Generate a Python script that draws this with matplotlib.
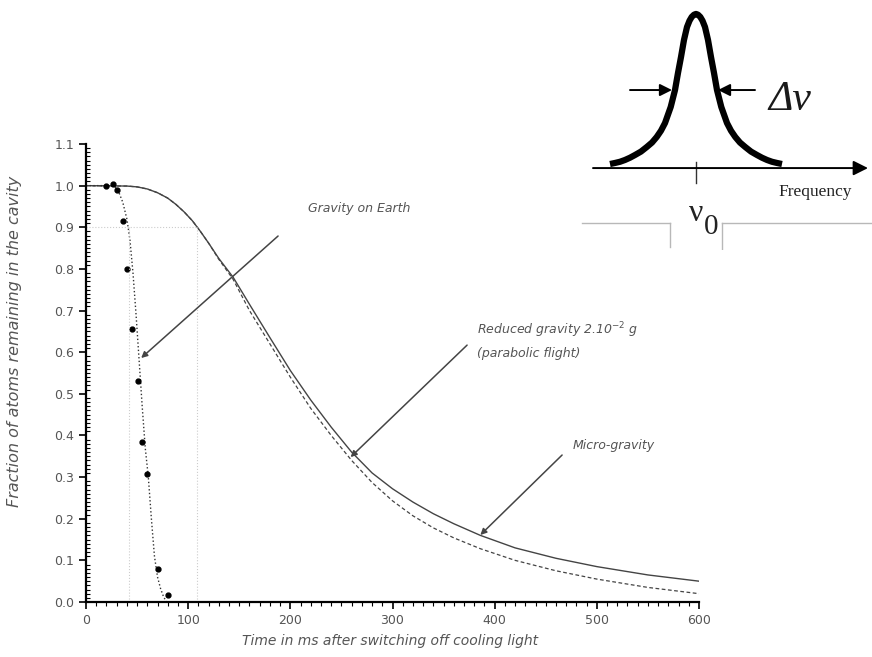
import numpy as np
import matplotlib
matplotlib.use("Agg")
import matplotlib.pyplot as plt
from matplotlib.ticker import MultipleLocator, FormatStrFormatter

# measured points, gravity on Earth
earth_t = [20, 26, 30, 36, 40, 45, 51, 55, 60, 70, 80]
earth_frac = [1.0, 1.003, 0.99, 0.915, 0.80, 0.655, 0.53, 0.385, 0.308, 0.08, 0.018]

# fit curve, gravity on Earth (dotted)
earth_fit_t = [0, 20, 28, 32, 36, 40, 43, 46, 49, 52, 55, 58, 61, 64, 67, 70, 73, 76, 79]
earth_fit_frac = [1.0, 1.0, 0.998, 0.985, 0.96, 0.92, 0.87, 0.79, 0.69, 0.58, 0.47,
                  0.37, 0.30, 0.20, 0.11, 0.06, 0.032, 0.012, 0.0]

# micro-gravity (solid) and reduced gravity (dashed)
curve_t = [0, 40, 50, 60, 70, 80, 88, 96, 104, 112, 120, 130, 144, 160, 180, 200, 220,
           240, 260, 280, 300, 320, 340, 360, 386, 420, 460, 500, 550, 600]
micro_frac = [1.0, 0.999, 0.997, 0.992, 0.983, 0.970, 0.955, 0.937, 0.916, 0.890, 0.862,
              0.825, 0.78, 0.715, 0.635, 0.556, 0.485, 0.42, 0.36, 0.31, 0.272, 0.24,
              0.212, 0.188, 0.16, 0.13, 0.105, 0.085, 0.065, 0.05]
reduced_frac = [1.0, 0.999, 0.997, 0.992, 0.983, 0.970, 0.955, 0.937, 0.916, 0.890, 0.862,
                0.823, 0.775, 0.70, 0.62, 0.54, 0.465, 0.40, 0.34, 0.287, 0.243, 0.207,
                0.178, 0.154, 0.128, 0.10, 0.075, 0.055, 0.035, 0.02]

# guide lines at 90 %
level_90 = 0.9
t90_earth = 42
t90_micro = 108.6

# inset line profile: half-width offsets (px from centre) and relative height
half_off = [0, 2, 4.3, 6.5, 9, 12, 15, 18, 21, 25.3, 31, 35, 39.3, 44, 49.3, 55, 61,
            66, 71, 76, 81, 86]
half_amp = [1.0, 0.995, 0.98, 0.955, 0.913, 0.827, 0.713, 0.607, 0.493, 0.38, 0.273,
            0.222, 0.18, 0.143, 0.113, 0.083, 0.06, 0.042, 0.027, 0.015, 0.007, 0.0]

txt = "#555555"
fig = plt.figure(figsize=(8.72, 6.57), dpi=100)
ax = fig.add_axes([86 / 872, 55 / 657, 613 / 872, 458 / 657])

ax.plot(curve_t, micro_frac, color="#444444", lw=1.0)
ax.plot(curve_t, reduced_frac, color="#444444", lw=0.9, dashes=(3, 2))
ax.plot(earth_fit_t, earth_fit_frac, color="#333333", lw=1.0, ls=":")
ax.plot(earth_t, earth_frac, "o", color="black", ms=3.5)

gcol = "#cccccc"
ax.plot([0, t90_micro], [level_90, level_90], color=gcol, lw=0.8, ls=":")
ax.plot([t90_earth, t90_earth], [0, level_90], color=gcol, lw=0.8, ls=":")
ax.plot([t90_micro, t90_micro], [0, level_90], color=gcol, lw=0.8, ls=":")

ax.set_xlim(0, 600)
ax.set_ylim(0, 1.1)
ax.xaxis.set_major_locator(MultipleLocator(100))
ax.xaxis.set_minor_locator(MultipleLocator(10))
ax.yaxis.set_major_locator(MultipleLocator(0.1))
ax.yaxis.set_minor_locator(MultipleLocator(0.01))
ax.yaxis.set_major_formatter(FormatStrFormatter("%.1f"))
for s in ["top", "right"]:
    ax.spines[s].set_visible(False)
for s in ["left", "bottom"]:
    ax.spines[s].set_linewidth(1.6)
ax.tick_params(axis="both", which="major", direction="out", length=5, width=1.2,
               labelsize=9, labelcolor=txt)
ax.tick_params(axis="x", which="minor", direction="out", length=3, width=0.8)
ax.tick_params(axis="y", which="minor", direction="in", length=3, width=0.8)

ax.set_ylabel("Fraction of atoms remaining in the cavity", style="italic",
              color=txt, fontsize=11.5)
ax.yaxis.set_label_coords(-0.104, 0.57)
ax.set_xlabel("Time in ms after switching off cooling light", style="italic",
              color=txt, fontsize=10)
ax.xaxis.set_label_coords(0.496, -0.07)

arr = dict(arrowstyle="-|>", color="#444444", lw=1.1, mutation_scale=9,
           shrinkA=0, shrinkB=0)
ax.text(217, 0.944, "Gravity on Earth", style="italic", color=txt, fontsize=9,
        va="center")
ax.annotate("", xy=(54, 0.586), xytext=(188, 0.879), arrowprops=arr)
ax.text(383, 0.653, r"Reduced gravity 2.10$^{-2}$ g", style="italic", color=txt,
        fontsize=9, va="center")
ax.text(383, 0.596, "(parabolic flight)", style="italic", color=txt, fontsize=9,
        va="center")
ax.annotate("", xy=(259, 0.348), xytext=(373, 0.617), arrowprops=arr)
ax.text(476, 0.377, "Micro-gravity", style="italic", color=txt, fontsize=9,
        va="center")
ax.annotate("", xy=(386, 0.161), xytext=(466, 0.353), arrowprops=arr)

# inset: spectral line width sketch (units: px offset from centre, relative height)
ins = fig.add_axes([570 / 872, 407 / 657, 302 / 872, 250 / 657])
ins.set_xlim(-126, 176)
ins.set_ylim(-0.573, 1.093)
ins.axis("off")
ins.patch.set_alpha(0)

off = np.array(half_off)
amp = np.array(half_amp)
px = np.r_[-off[::-1], off[1:]]
py = np.r_[amp[::-1], amp[1:]]
ins.plot(px, py, color="black", lw=4.5, solid_capstyle="butt", solid_joinstyle="round")

ins.annotate("", xy=(172, -0.027), xytext=(-103, -0.027),
             arrowprops=dict(arrowstyle="-|>", color="black", lw=1.4,
                             mutation_scale=22, shrinkA=0, shrinkB=0))
ins.plot([0, 0], [0.013, -0.127], color="#333333", lw=1.0)
fw = dict(arrowstyle="-|>", color="black", lw=1.4, mutation_scale=18,
          shrinkA=0, shrinkB=0)
ins.annotate("", xy=(-24, 0.493), xytext=(-66, 0.493), arrowprops=fw)
ins.annotate("", xy=(22, 0.493), xytext=(59, 0.493), arrowprops=fw)

serif = ["Liberation Serif", "DejaVu Serif"]
ins.text(72, 0.427, "Δν", family=serif, style="italic", fontsize=30,
         color="#1a1a1a", va="center", ha="left")
ins.text(82, -0.187, "Frequency", family=serif, fontsize=12.5, color="#222222",
         va="center", ha="left")
ins.text(-7, -0.33, "ν", family=serif, fontsize=23, color="#222222",
         va="center", ha="left")
ins.text(8, -0.42, "0", family=serif, fontsize=21, color="#222222",
         va="center", ha="left")

fc = "#b8b8b8"
ins.plot([-114, -26], [-0.393, -0.393], color=fc, lw=1)
ins.plot([-26, -26], [-0.393, -0.553], color=fc, lw=1)
ins.plot([26, 26], [-0.393, -0.573], color=fc, lw=1)
ins.plot([26, 176], [-0.393, -0.393], color=fc, lw=1)

fig.savefig("out.png", dpi=100)
